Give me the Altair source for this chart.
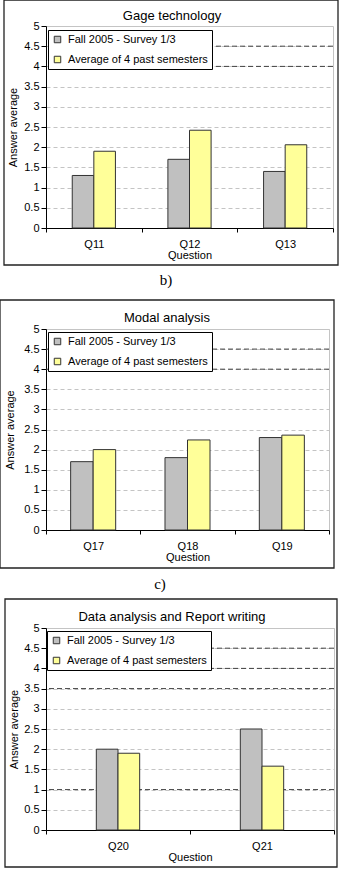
import altair as alt
import pandas as pd

series = ["Fall 2005 - Survey 1/3", "Average of 4 past semesters"]
colors = ["#C0C0C0", "#FFFF99"]

p1_title = "Gage technology"
p1_q = ["Q11", "Q12", "Q13"]
p1_fall = [1.3, 1.7, 1.4]
p1_avg = [1.9, 2.42, 2.06]
p1_dark = [4.0, 4.5]

p2_title = "Modal analysis"
p2_q = ["Q17", "Q18", "Q19"]
p2_fall = [1.7, 1.8, 2.3]
p2_avg = [2.0, 2.24, 2.36]
p2_dark = [4.0, 4.5]

p3_title = "Data analysis and Report writing"
p3_q = ["Q20", "Q21"]
p3_fall = [2.0, 2.5]
p3_avg = [1.9, 1.58]
p3_dark = [1.0, 3.5, 4.0, 4.5]

y_ticks = [0, 0.5, 1, 1.5, 2, 2.5, 3, 3.5, 4, 4.5, 5]

FONT = "Liberation Sans"


def panel(title, qs, fall, avg, dark, sub, w, h, n_pad, pad_outer, lx, ly,
          box, spacer_bottom, title_xy, sub_xy, ytitle_x):
    rows = []
    for q, a, b in zip(qs, fall, avg):
        rows.append({"q": q, "s": series[0], "v": a})
        rows.append({"q": q, "s": series[1], "v": b})
    df = pd.DataFrame(rows)
    ydom = alt.Scale(domain=[0, 5], nice=False, zero=True)
    yaxis = alt.Axis(values=y_ticks, format="~g", tickSize=5,
                     labelOverlap=False, tickCount=11,
                     tickColor="black", domainColor="black",
                     labelPadding=2, labelFontSize=11,
                     labelColor="black", titleFontSize=11,
                     titleFontWeight="normal", titleColor="black",
                     titleX=ytitle_x, titleBaseline="middle",
                     grid=True, gridColor="#c4c4c4",
                     gridDash=[4, 3], gridWidth=1)
    # empty slots on each side of the pair of bars, only to narrow the bars
    off_dom = ["_l%d" % i for i in range(n_pad)] + series + \
        ["_r%d" % i for i in range(n_pad)]

    bars = alt.Chart(df).mark_bar(stroke="#333333", strokeWidth=1).encode(
        x=alt.X("q:N", sort=qs, title="Question",
                scale=alt.Scale(paddingInner=0, paddingOuter=0),
                axis=alt.Axis(labelAngle=0, tickBand="extent", tickSize=4,
                              tickColor="black", domainColor="black",
                              labelPadding=6, labelFontSize=11,
                              labelColor="black", titleFontSize=11,
                              titleFontWeight="normal", titleColor="black",
                              titleY=27, titleBaseline="middle", grid=False)),
        xOffset=alt.XOffset("s:N",
                            scale=alt.Scale(domain=off_dom, paddingInner=0,
                                            paddingOuter=pad_outer)),
        y=alt.Y("v:Q", stack=None, scale=ydom, title="Answer average",
                axis=yaxis),
        color=alt.Color("s:N", sort=series,
                        scale=alt.Scale(domain=series, range=colors),
                        legend=alt.Legend(orient="none", legendX=lx, legendY=ly,
                                          title=None, direction="vertical",
                                          strokeColor="black", fillColor="white",
                                          padding=4, symbolType="square",
                                          symbolSize=42, symbolStrokeColor="#333333",
                                          symbolStrokeWidth=1, labelFontSize=11,
                                          labelColor="black", rowPadding=8,
                                          labelOffset=5, labelLimit=200,
                                          cornerRadius=0)),
    )

    dark_df = pd.DataFrame({"v": dark})
    dark_rules = alt.Chart(dark_df).mark_rule(
        color="#404040", strokeDash=[5, 3], strokeWidth=1
    ).encode(y=alt.Y("v:Q", scale=ydom, title="Answer average", axis=yaxis))

    one = alt.Data(values=[{"k": 1}])
    border = alt.Chart(one).mark_rect(
        fill=None, stroke="#222222", strokeWidth=1.3
    ).encode(x=alt.value(box[0]), x2=alt.value(box[1]),
             y=alt.value(box[2]), y2=alt.value(box[3]))
    spacer = alt.Chart(one).mark_rect(opacity=0).encode(
        x=alt.value(box[0]), x2=alt.value(box[0] + 2),
        y=alt.value(box[2]), y2=alt.value(spacer_bottom))
    ttl = alt.Chart(one).mark_text(
        text=title, font=FONT, fontSize=13, color="black",
        align="center", baseline="middle"
    ).encode(x=alt.value(title_xy[0]), y=alt.value(title_xy[1]))
    lab = alt.Chart(one).mark_text(
        text=sub, font="Liberation Serif", fontSize=15, color="black",
        align="center", baseline="middle"
    ).encode(x=alt.value(sub_xy[0]), y=alt.value(sub_xy[1]))

    return alt.layer(spacer, border, dark_rules, bars, ttl, lab).properties(
        width=w, height=h)


c1 = panel(p1_title, p1_q, p1_fall, p1_avg, p1_dark, "b)", 287, 202, 1, 0.215,
           2, 4, (-42, 292, -26, 239), 271, (126, -10), (120, 254), -33)
c2 = panel(p2_title, p2_q, p2_fall, p2_avg, p2_dark, "c)", 283, 201, 1, 0.095,
           2, 3, (-46, 288, -29, 239), 267, (121, -11), (114, 255), -36)
c3 = panel(p3_title, p3_q, p3_fall, p3_avg, p3_dark, "d)", 288, 202, 2, 0.32,
           1, 3, (-41, 291, -29, 239), 262, (126, -11), (121, 255), -32)

chart = alt.vconcat(c1, c2, c3, spacing=0,
                    padding={"top": -2, "left": -2, "right": 0, "bottom": 0}
                    ).resolve_scale(
    color="independent", x="independent", y="independent",
    xOffset="independent"
).resolve_legend(color="independent").configure(font=FONT).configure_view(
    stroke="#c4c4c4", strokeWidth=1)

chart.save("out.html", embed_options={"renderer": "svg", "actions": False})
